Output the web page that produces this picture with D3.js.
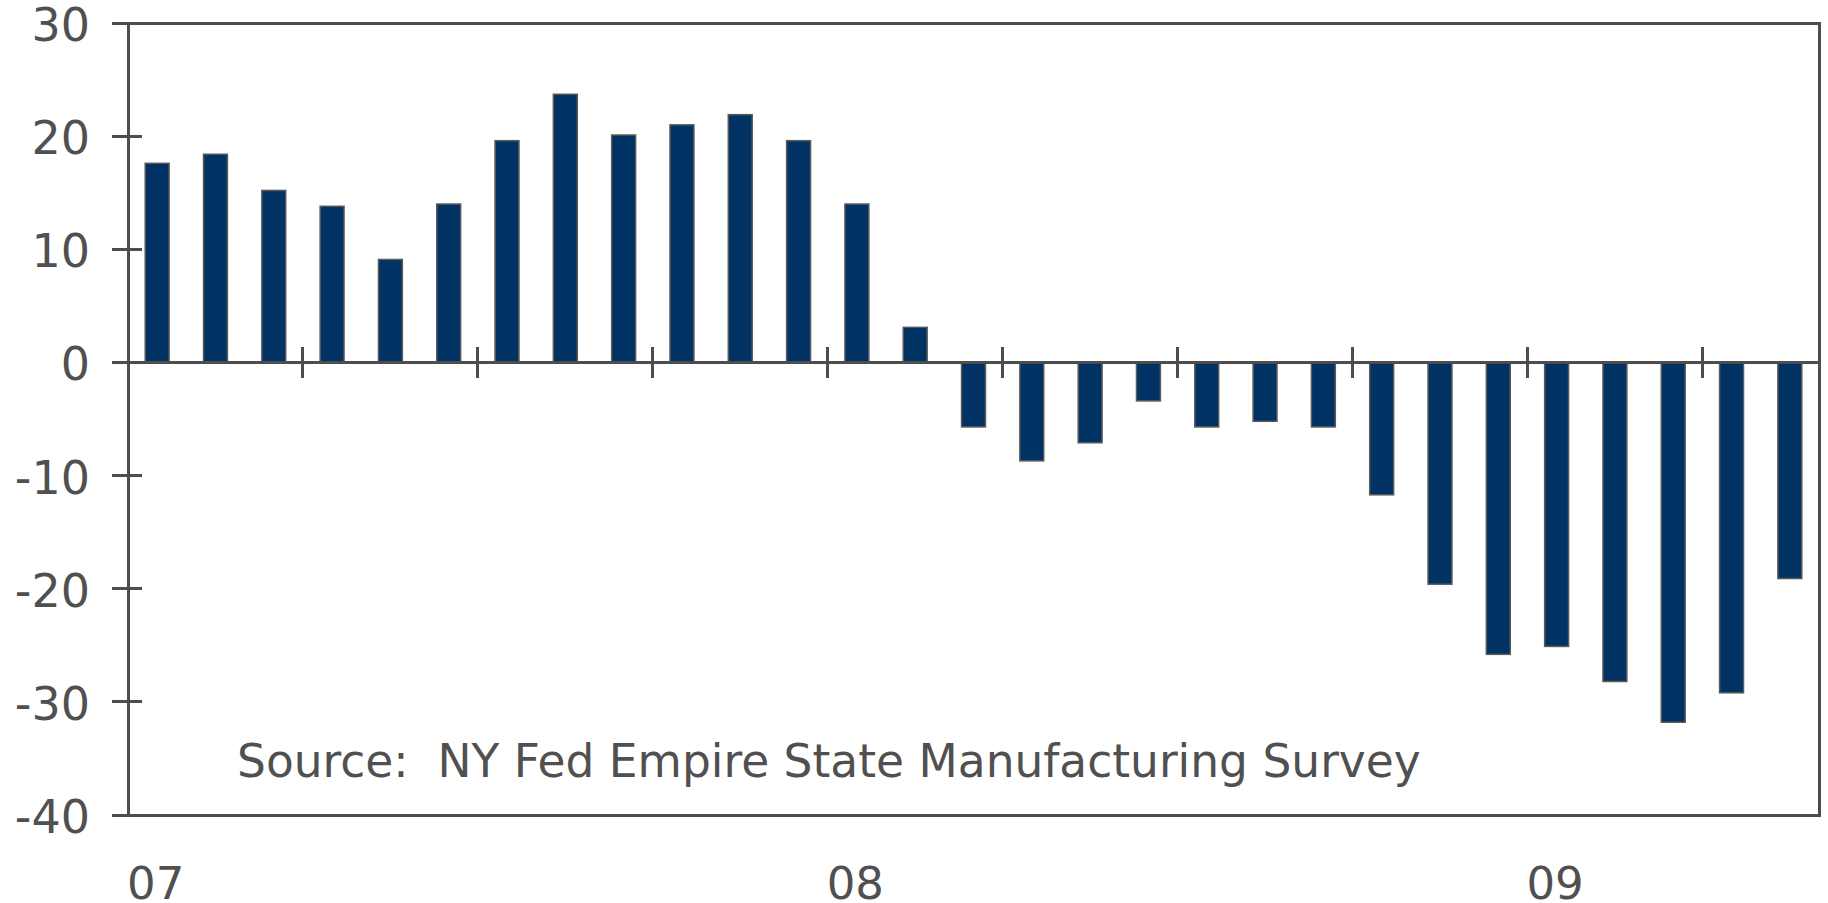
<!DOCTYPE html>
<html>
<head>
<meta charset="utf-8">
<script src="https://cdn.jsdelivr.net/npm/d3@7"></script>
<style>
  html, body { margin: 0; padding: 0; background: #ffffff; }
  svg { display: block; }
  text { font-family: "DejaVu Sans", Verdana, sans-serif; fill: #505050; }
</style>
</head>
<body>
<svg id="chart" width="1828" height="903"></svg>
<script>
// ---- data ----
const months = [
  "2007-01","2007-02","2007-03","2007-04","2007-05","2007-06",
  "2007-07","2007-08","2007-09","2007-10","2007-11","2007-12",
  "2008-01","2008-02","2008-03","2008-04","2008-05","2008-06",
  "2008-07","2008-08","2008-09","2008-10","2008-11","2008-12",
  "2009-01","2009-02","2009-03","2009-04","2009-05"
];
const values = [
  17.6, 18.4, 15.2, 13.8, 9.1, 14.0,
  19.6, 23.7, 20.1, 21.0, 21.9, 19.6,
  14.0, 3.1, -5.7, -8.7, -7.1, -3.4,
  -5.7, -5.2, -5.7, -11.7, -19.6, -25.8,
  -25.1, -28.2, -31.8, -29.2, -19.1
];
const yTicks = [30, 20, 10, 0, -10, -20, -30, -40];
const yTickLabels = ["30", "20", "10", "0", "-10", "-20", "-30", "-40"];
const yearLabels = ["07", "08", "09"];
const yearStartIndex = [0, 12, 24];
const sourceText = "Source:  NY Fed Empire State Manufacturing Survey";

(function () {
  // ---- layout ----
  const pLeft = 128, pRight = 1819, pTop = 23, pBottom = 815;
  const ink = "#4d4d4d";
  const barFill = "#003263";

  const svg = d3.select("#chart");

  const x = d3.scaleBand()
    .domain(months)
    .range([pLeft, pRight])
    .paddingInner(0.59)
    .paddingOuter(0.295);

  const y = d3.scaleLinear()
    .domain([-40, 30])
    .range([pBottom, pTop]);

  const step = x.step();
  const boundary = i => pLeft + i * step;

  // bars
  svg.append("g")
    .selectAll("rect")
    .data(months.map((m, i) => ({ m, v: values[i] })))
    .join("rect")
    .attr("x", d => x(d.m))
    .attr("width", x.bandwidth())
    .attr("y", d => y(Math.max(0, d.v)))
    .attr("height", d => Math.abs(y(d.v) - y(0)))
    .attr("fill", barFill)
    .attr("stroke", "#5a5a5a")
    .attr("stroke-width", 1.5);

  const lines = svg.append("g").attr("shape-rendering", "crispEdges");

  // zero line (x axis)
  lines.append("line")
    .attr("x1", pLeft).attr("x2", pRight)
    .attr("y1", y(0)).attr("y2", y(0))
    .attr("stroke", ink).attr("stroke-width", 3);

  // quarter ticks on zero line
  const qIdx = d3.range(3, months.length, 3);
  lines.append("g")
    .selectAll("line")
    .data(qIdx)
    .join("line")
    .attr("x1", i => boundary(i)).attr("x2", i => boundary(i))
    .attr("y1", y(0) - 15).attr("y2", y(0) + 16)
    .attr("stroke", ink).attr("stroke-width", 3);

  // frame
  lines.append("rect")
    .attr("x", pLeft).attr("y", pTop)
    .attr("width", pRight - pLeft).attr("height", pBottom - pTop)
    .attr("fill", "none")
    .attr("stroke", ink).attr("stroke-width", 3);

  // y ticks
  lines.append("g")
    .selectAll("line")
    .data(yTicks)
    .join("line")
    .attr("x1", pLeft - 16).attr("x2", pLeft + 14)
    .attr("y1", d => y(d)).attr("y2", d => y(d))
    .attr("stroke", ink).attr("stroke-width", 3);

  // y labels
  svg.append("g")
    .selectAll("text")
    .data(yTicks)
    .join("text")
    .attr("x", 90)
    .attr("y", d => y(d) + 18)
    .attr("text-anchor", "end")
    .style("font-size", "46px")
    .text((d, i) => yTickLabels[i]);

  // year labels
  svg.append("g")
    .selectAll("text")
    .data(yearLabels)
    .join("text")
    .attr("x", (d, i) => boundary(yearStartIndex[i]) - 1)
    .attr("y", 899)
    .style("font-size", "45px")
    .text(d => d);

  // source note
  svg.append("text")
    .attr("x", 237)
    .attr("y", 777)
    .style("font-size", "45.5px")
    .style("white-space", "pre")
    .attr("xml:space", "preserve")
    .text(sourceText);
})();
</script>
</body>
</html>
